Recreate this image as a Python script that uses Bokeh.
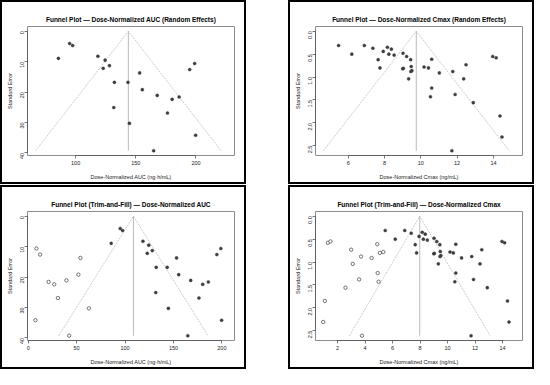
import math
from bokeh.plotting import figure
from bokeh.models import Range1d, FixedTicker, PrintfTickFormatter, Column
from bokeh.layouts import row, column
from bokeh.embed import file_html
from bokeh.resources import INLINE

# ---- data ----
auc_yi = [95.0, 97.5, 85.7, 118.5, 124.5, 128.1, 122.9, 132.2, 143.5, 153.2, 155.4,
          131.7, 144.7, 167.8, 180.2, 186.0, 176.3, 194.8, 198.9, 199.7, 164.8]
auc_se = [4.0, 4.7, 8.9, 8.2, 9.5, 11.3, 12.2, 16.8, 16.8, 13.7, 19.2,
          25.1, 30.3, 21.1, 22.4, 21.6, 26.9, 12.6, 10.6, 34.2, 39.3]
auc_fill_yi = [8.5, 12.3, 53.9, 51.8, 21.1, 26.9, 39.5, 30.7, 62.7, 7.5, 42.3]
auc_fill_se = [10.6, 12.6, 13.7, 19.2, 21.6, 22.4, 21.1, 26.9, 30.3, 34.2, 39.3]

cmax_yi = [5.47, 6.20, 6.89, 7.36, 7.93, 8.16, 8.38, 8.24, 8.53, 7.65, 7.75, 9.02,
           9.22, 9.44, 9.47, 9.00, 9.04, 9.51, 9.45, 9.33, 10.18, 10.42, 10.60, 11.02,
           11.76, 12.49, 12.36, 10.60, 10.53, 11.89, 12.89, 13.96, 14.15, 14.36, 14.47, 11.71]
cmax_se = [0.31, 0.50, 0.31, 0.37, 0.44, 0.35, 0.39, 0.50, 0.52, 0.62, 0.80, 0.48,
           0.55, 0.62, 0.77, 0.82, 0.81, 0.86, 0.88, 1.04, 0.78, 0.80, 0.61, 0.91,
           0.88, 0.73, 1.04, 1.24, 1.43, 1.38, 1.56, 0.55, 0.58, 1.85, 2.31, 2.61]
cmax_fill_yi = [1.30, 1.49, 2.99, 3.11, 3.71, 4.48, 4.89, 5.08, 5.33, 4.92, 4.99,
                3.57, 2.58, 1.08, 0.96, 3.78]
cmax_fill_se = [0.58, 0.55, 0.73, 1.04, 0.88, 0.91, 0.61, 0.80, 0.78, 1.24, 1.43,
                1.38, 1.56, 1.85, 2.31, 2.61]

auc_re_estimate = 143.8
auc_tf_estimate = 108.7
cmax_re_estimate = 9.75
cmax_tf_estimate = 7.98

titles = ["Funnel Plot \u2014 Dose-Normalized AUC (Random Effects)",
          "Funnel Plot \u2014 Dose-Normalized Cmax (Random Effects)",
          "Funnel Plot (Trim-and-Fill) \u2014 Dose-Normalized AUC",
          "Funnel Plot (Trim-and-Fill) \u2014 Dose-Normalized Cmax"]
xlabel_auc = "Dose-Normalized AUC (ng\u00b7h/mL)"
xlabel_cmax = "Dose-Normalized Cmax (ng/mL)"
ylabel = "Standard Error"

xticks_auc_re = [100, 150, 200]
xticks_auc_tf = [0, 50, 100, 150, 200]
xticks_cmax_re = [6, 8, 10, 12, 14]
xticks_cmax_tf = [2, 4, 6, 8, 10, 12, 14]
yticks_auc = [0, 10, 20, 30, 40]
yticks_cmax = [0.0, 0.5, 1.0, 1.5, 2.0, 2.5]

FONT = "Liberation Sans"
W, H = 242, 180


def panel(title, xlabel, xr, yr, xticks, yticks, yfmt, est, xs, ses, fxs=None, fses=None):
    p = figure(width=W, height=H, x_range=Range1d(*xr), y_range=Range1d(*yr),
               output_backend="svg", toolbar_location=None,
               min_border_left=25, min_border_right=10, min_border_top=24,
               min_border_bottom=27)
    p.title.text = title
    p.title.align = "center"
    p.title.text_font = FONT
    p.title.text_font_size = "6.5px"
    p.title.text_font_style = "bold"
    p.title.text_color = "#000000"
    p.title.standoff = 8
    p.grid.visible = False
    p.outline_line_color = "#8c8c8c"
    p.outline_line_width = 1

    p.xaxis.ticker = FixedTicker(ticks=xticks)
    p.xaxis.bounds = (xticks[0], xticks[-1])
    p.yaxis.ticker = FixedTicker(ticks=yticks)
    p.yaxis.bounds = (yticks[0], yticks[-1])
    p.yaxis.formatter = PrintfTickFormatter(format=yfmt)
    p.yaxis.major_label_orientation = math.pi / 2
    p.xaxis.axis_label = xlabel
    p.yaxis.axis_label = ylabel
    for ax in (p.xaxis, p.yaxis):
        ax.minor_tick_line_color = None
        ax.major_tick_in = 0
        ax.major_tick_out = 3
        ax.axis_line_color = "#555555"
        ax.axis_line_width = 0.8
        ax.major_tick_line_color = "#555555"
        ax.major_tick_line_width = 0.8
        ax.major_label_text_font = FONT
        ax.major_label_text_font_size = "5.5px"
        ax.major_label_text_color = "#222222"
        ax.major_label_standoff = 2
        ax.axis_label_text_font = FONT
        ax.axis_label_text_font_size = "5.5px"
        ax.axis_label_text_font_style = "normal"
        ax.axis_label_text_color = "#222222"
    p.xaxis.axis_label_standoff = 6
    p.yaxis.axis_label_standoff = 3

    semax = max(ses)
    half = 1.96 * semax
    p.line([est - half, est, est + half], [semax, 0, semax],
           line_color="#b4b4b4", line_width=0.7, line_dash="2 1")
    p.line([est, est], [0, semax], line_color="#a8a8a8", line_width=0.8)

    p.scatter(xs, ses, size=3.1, fill_color="#3c3c3c", line_color="#3c3c3c",
              line_width=0.4)
    if fxs is not None:
        p.scatter(fxs, fses, size=3.4, fill_color="white", line_color="#3c3c3c",
                  line_width=0.7)
    return Column(children=[p], styles={"border": "2px solid #000000"})


auc_max = max(auc_se)
cmax_max = max(cmax_se)
auc_yr = (auc_max * 1.04, -auc_max * 0.04)
cmax_yr = (cmax_max * 1.04, -cmax_max * 0.04)

p1 = panel(titles[0], xlabel_auc, (60, 232), auc_yr, xticks_auc_re, yticks_auc, "%d",
           auc_re_estimate, auc_yi, auc_se)
p2 = panel(titles[1], xlabel_cmax, (4.2, 15.6), cmax_yr, xticks_cmax_re, yticks_cmax, "%.1f",
           cmax_re_estimate, cmax_yi, cmax_se)
p3 = panel(titles[2], xlabel_auc, (-0.7, 213), auc_yr, xticks_auc_tf, yticks_auc, "%d",
           auc_tf_estimate, auc_yi, auc_se, auc_fill_yi, auc_fill_se)
p4 = panel(titles[3], xlabel_cmax, (0.4, 15.45), cmax_yr, xticks_cmax_tf, yticks_cmax, "%.1f",
           cmax_tf_estimate, cmax_yi, cmax_se, cmax_fill_yi, cmax_fill_se)

layout = column(row(p1, p2, spacing=42), row(p3, p4, spacing=42), spacing=1)

open("out.html", "w").write(file_html(layout, INLINE))
